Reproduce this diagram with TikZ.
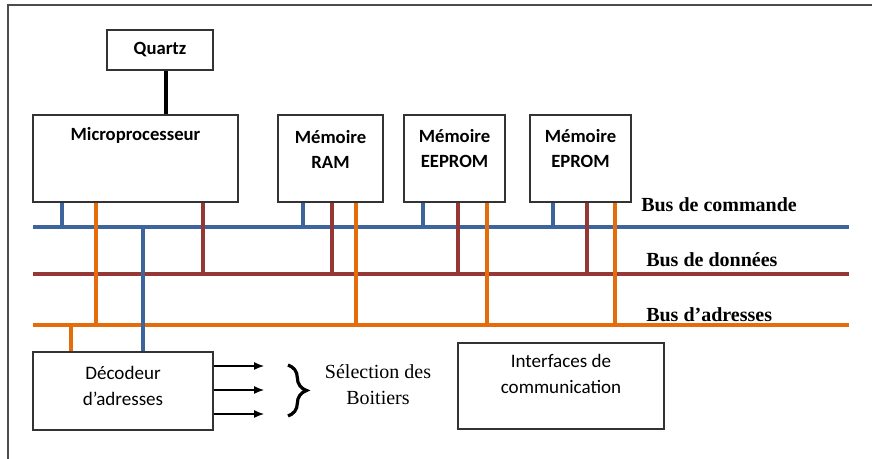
\documentclass[tikz,border=0pt]{standalone}
\usepackage{fontspec}
\setmainfont{Liberation Serif}
\newfontfamily\calfont{Carlito}
\usetikzlibrary{arrows.meta,decorations.pathreplacing}
\definecolor{cmdblue}{HTML}{3D659C}
\definecolor{datred}{HTML}{953735}
\definecolor{adrorange}{HTML}{E46C0A}
\begin{document}
\begin{tikzpicture}[x=0.75pt,y=-0.75pt,
  box/.style={draw=black!80, line width=0.9pt, fill=white, inner sep=0pt},
  lblb/.style={font=\calfont\bfseries\fontsize{14}{18.75}\selectfont, align=center, inner sep=0pt},
  lblr/.style={font=\calfont\fontsize{14.3}{19.5}\selectfont, align=center, inner sep=0pt},
  buslbl/.style={font=\bfseries\fontsize{15}{18}\selectfont, anchor=base west, inner sep=0pt},
  bus/.style={line width=3pt},
  stub/.style={line width=2.4pt},
  cmdc/.style={stub, draw=cmdblue},
  datc/.style={stub, draw=datred},
  adrc/.style={stub, draw=adrorange},
  selarrow/.style={-{Latex[length=7.5pt,width=6pt]}, line width=0.9pt}]
\useasboundingbox (0,0) rectangle (872,459);
\fill[white] (0,0) rectangle (872,459);
% outer frame (partly visible)
\draw[black!70, line width=1.1pt] (8,459) -- (8,5) -- (872,5);

% boxes
\node[box, lblb, minimum width=106*0.75pt, minimum height=40*0.75pt] (qz) at (160,50) {Quartz};
\node[box, minimum width=205*0.75pt, minimum height=87*0.75pt] (mp) at (135.5,158.5) {};
\node[lblb] (mpt) at (135.5,135) {Microprocesseur};
\node[box, minimum width=105*0.75pt, minimum height=87*0.75pt] (ram) at (330.5,158.5) {};
\node[lblb] (ramt) at (330.5,149) {Mémoire\\RAM};
\node[box, minimum width=101*0.75pt, minimum height=87*0.75pt] (eep) at (454.5,158.5) {};
\node[lblb] (eept) at (454.5,149) {Mémoire\\EEPROM};
\node[box, minimum width=101*0.75pt, minimum height=87*0.75pt] (epr) at (580.5,158.5) {};
\node[lblb] (eprt) at (580.5,149) {Mémoire\\EPROM};
\node[box, minimum width=180*0.75pt, minimum height=78*0.75pt] (dec) at (123,391) {};
\node[lblr] (dect) at (123,386) {Décodeur\\d’adresses};
\node[box, minimum width=206*0.75pt, minimum height=86*0.75pt] (ifc) at (561,386) {};
\node[lblr] (ifct) at (561,374) {Interfaces de\\communication};

% quartz link
\coordinate (qx) at (166,0);
\draw[line width=3pt] (qz.south -| qx) -- (mp.north -| qx);

% buses
\coordinate (cmdL) at (33,227); \coordinate (cmdR) at (849,227);
\coordinate (datL) at (33,274); \coordinate (datR) at (849,274);
\coordinate (adrL) at (33,325); \coordinate (adrR) at (849,325);
\draw[bus, cmdblue] (cmdL) -- (cmdR);
\draw[bus, datred] (datL) -- (datR);
\draw[bus, adrorange] (adrL) -- (adrR);

% bus labels
\node[buslbl] (lcmd) at (641,212) {Bus de commande};
\node[buslbl] (ldat) at (646,267) {Bus de données};
\node[buslbl] (ladr) at (646,322) {Bus d’adresses};

% stubs from boxes to buses
\foreach \n/\x/\b/\s in {mp/62/cmdL/cmdc, mp/96/adrL/adrc, mp/203/datL/datc,
  ram/303/cmdL/cmdc, ram/332/datL/datc, ram/356/adrL/adrc,
  eep/423/cmdL/cmdc, eep/458/datL/datc, eep/487/adrL/adrc,
  epr/553/cmdL/cmdc, epr/587/datL/datc, epr/615/adrL/adrc}{
  \coordinate (sx) at (\x,0);
  \draw[\s] (\n.south -| sx) -- (\b -| sx);
}
% decoder links
\coordinate (dx1) at (143,0);
\draw[cmdc] (cmdL -| dx1) -- (dec.north -| dx1);
\coordinate (dx2) at (71,0);
\draw[adrc] (adrL -| dx2) -- (dec.north -| dx2);

% selection arrows
\foreach \i/\y in {1/366,2/390,3/414}{
  \coordinate (ar\i) at (264,\y);
  \draw[selarrow] (dec.east |- ar\i) -- (ar\i);
}
\coordinate (brT) at (288,365);
\coordinate (brB) at (288,416);
\draw[decorate, decoration={brace, amplitude=14pt}, line width=2.4pt] (brT) -- (brB);
\node[font=\fontsize{15}{19.5}\selectfont, align=center, inner sep=0pt] (sel) at (378,385) {Sélection des\\Boitiers};
\end{tikzpicture}
\end{document}
